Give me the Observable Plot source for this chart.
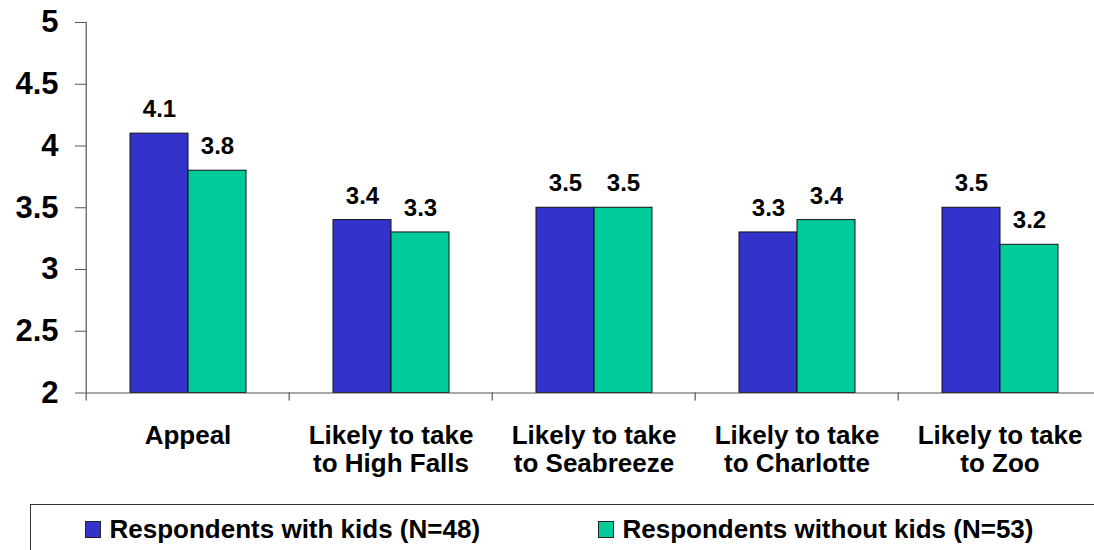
<!DOCTYPE html>
<html>
<head>
<meta charset="utf-8">
<script src="https://cdn.jsdelivr.net/npm/d3@7"></script>
<script src="https://cdn.jsdelivr.net/npm/@observablehq/plot@0.6"></script>
<style>
  html, body { margin: 0; padding: 0; background: #fff; overflow: hidden; }
  body { font-family: "Liberation Sans", Arial, sans-serif; }
  #wrap { position: relative; width: 1094px; height: 550px; overflow: hidden; }
  #chart svg { display: block; overflow: visible; }
  .legend {
    position: absolute; left: 30px; top: 504px; width: 1120px; height: 80px;
    border: 1px solid #333; box-sizing: border-box;
  }
  .legend .item {
    position: absolute; top: 10px; display: flex; align-items: center;
    font-size: 26px; font-weight: bold; color: #000; line-height: 28px; white-space: nowrap;
  }
  .legend .sw {
    display: inline-block; width: 16px; height: 17px; box-sizing: border-box;
    border: 1px solid #222; margin-right: 8.5px;
  }
</style>
</head>
<body>
<div id="wrap">
  <div id="chart"></div>
  <div class="legend" id="legend"></div>
</div>
<script>
// Mean ratings by respondent group
const categories = [
  "Appeal",
  "Likely to take\nto High Falls",
  "Likely to take\nto Seabreeze",
  "Likely to take\nto Charlotte",
  "Likely to take\nto Zoo"
];
const series = ["Respondents with kids (N=48)", "Respondents without kids (N=53)"];
const withKids = [4.1, 3.4, 3.5, 3.3, 3.5];
const withoutKids = [3.8, 3.3, 3.5, 3.4, 3.2];
const yTicks = [2, 2.5, 3, 3.5, 4, 4.5, 5];
const colors = ["#3333CC", "#00CC99"];

// Long-form table for the grouped bars
const rows = [];
categories.forEach((c, i) => {
  rows.push({category: c, series: series[0], value: withKids[i]});
  rows.push({category: c, series: series[1], value: withoutKids[i]});
});

const width = 1094;
const marginLeft = 84;
const marginRight = -8;      // last group runs slightly past the right edge
const groupStep = (width - marginRight - marginLeft) / categories.length;
const axisColor = "#555";
const font = "'Liberation Sans', Arial, sans-serif";

const chart = Plot.plot({
  width,
  height: 504,
  marginLeft,
  marginRight,
  marginTop: 22,
  marginBottom: 111.5,
  style: {fontFamily: font, background: "transparent", color: "#000"},
  fx: {domain: categories, padding: 0, axis: null, label: null},
  x: {domain: series, paddingInner: 0, paddingOuter: 0.74, axis: null},
  y: {domain: [2, 5], axis: null, label: null},
  color: {domain: series, range: colors},
  marks: [
    // vertical value axis: line at the left edge of the first group
    Plot.ruleX([categories[0]], {
      fx: d => d, x: null, y1: 2, y2: 5, dx: -groupStep / 2,
      stroke: axisColor, strokeWidth: 1.2
    }),
    Plot.axisY(yTicks, {
      label: null, tickSize: 11, tickPadding: 17, tickFormat: d => String(d),
      fontSize: 31, fontWeight: "bold", stroke: axisColor, fill: "#000"
    }),
    // bars
    Plot.barY(rows, {
      fx: "category", x: "series", y1: 2, y2: "value",
      fill: "series", stroke: "#111", strokeWidth: 1
    }),
    // baseline
    Plot.ruleY([2], {stroke: axisColor, strokeWidth: 1.2}),
    // group separators below the baseline
    Plot.axisFx({
      anchor: "bottom", label: null, tickSize: 8, tickFormat: () => "",
      dx: -groupStep / 2, stroke: axisColor, strokeWidth: 1.2
    }),
    // value labels
    Plot.text(rows, {
      fx: "category", x: "series", y: "value",
      text: d => d.value.toFixed(1), lineAnchor: "bottom", dy: -16.5,
      fontSize: 24, fontWeight: "bold", fill: "#000"
    }),
    // category labels
    Plot.text(categories, {
      fx: d => d, text: d => d, frameAnchor: "bottom",
      lineAnchor: "top", dy: 30.7, lineHeight: 1.09,
      fontSize: 26, fontWeight: "bold", fill: "#000"
    })
  ]
});
document.getElementById("chart").appendChild(chart);

// legend box below the chart
const legendOffsets = [54, 567];
const legend = document.getElementById("legend");
series.forEach((s, i) => {
  const item = document.createElement("div");
  item.className = "item";
  item.style.left = legendOffsets[i] + "px";
  const sw = document.createElement("span");
  sw.className = "sw";
  sw.style.background = colors[i];
  item.appendChild(sw);
  item.appendChild(document.createTextNode(s));
  legend.appendChild(item);
});
</script>
</body>
</html>
